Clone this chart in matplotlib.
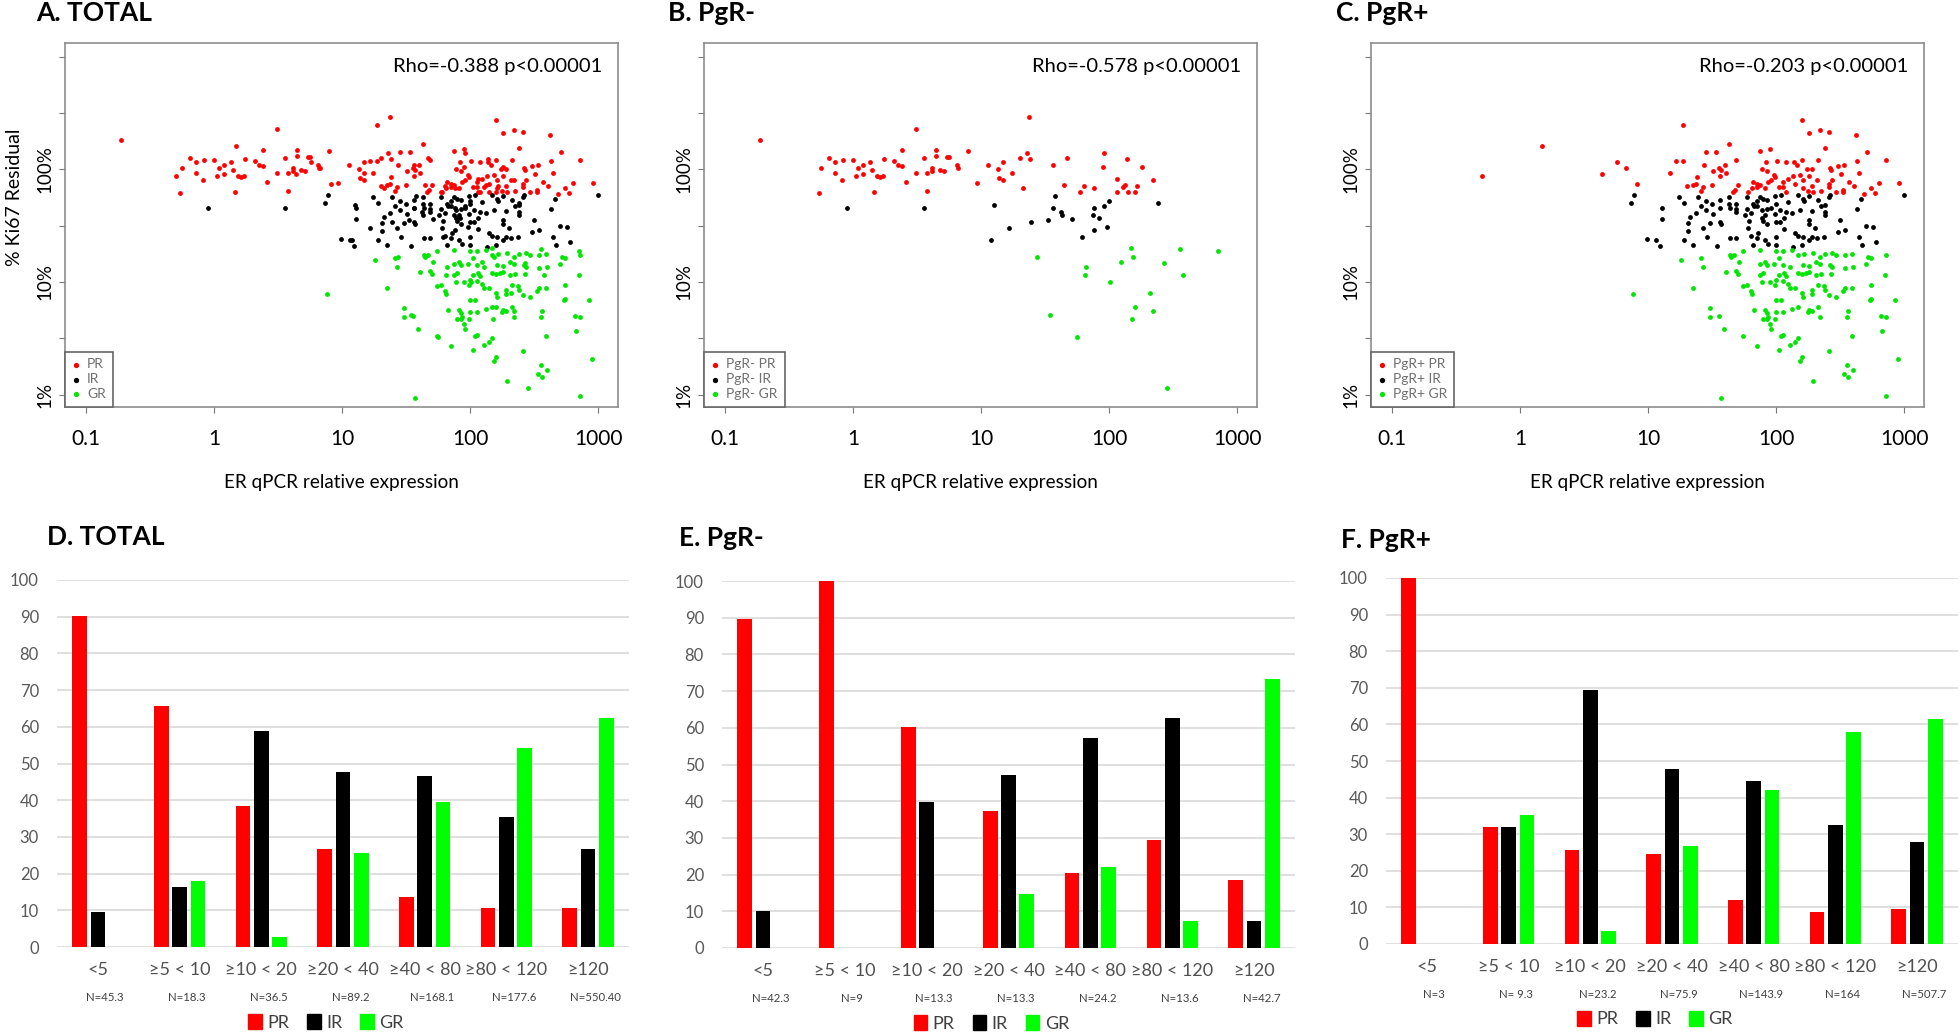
import numpy as np
import matplotlib
matplotlib.use("Agg")
import matplotlib.pyplot as plt
from matplotlib.ticker import NullLocator
from matplotlib.patches import Patch

plt.rcParams['font.family'] = ['Lato', 'DejaVu Sans']

# =====================================================
# SCATTER DATA  (log10 ER qPCR expression, log10 % Ki67 residual)
# =====================================================

pgr_neg_pr = [
    (-0.73, 2.26), (0.49, 2.36), (-0.19, 2.10), (-0.14, 2.06), (-0.08, 2.08), (0.00, 2.08),
    (-0.25, 2.01), (-0.14, 1.97), (-0.09, 1.90), (-0.27, 1.79), (0.02, 1.94), (0.04, 2.01),
    (0.08, 2.04), (0.08, 1.96), (0.13, 2.06), (0.15, 1.99), (0.19, 1.94), (0.21, 1.93),
    (0.23, 1.94), (0.24, 2.09), (0.32, 2.07), (0.35, 2.04), (0.38, 2.03), (0.38, 2.17),
    (0.41, 1.89), (0.16, 1.80), (0.49, 1.97), (0.55, 2.10), (0.58, 1.97), (0.58, 1.81),
    (0.62, 2.01), (0.62, 1.98), (0.65, 2.17), (0.65, 2.12), (0.68, 1.99), (0.71, 1.98),
    (0.73, 2.11), (0.75, 2.11), (0.81, 2.04), (0.82, 2.01), (0.90, 2.16), (0.97, 1.88),
    (1.37, 2.46), (1.05, 2.04), (1.17, 2.06), (1.13, 2.00), (1.14, 1.92), (1.17, 1.90),
    (1.24, 1.97), (1.30, 2.10), (1.36, 2.14), (1.38, 2.09), (1.33, 1.83), (1.56, 2.04),
    (1.67, 2.10), (1.65, 1.86), (1.77, 1.80), (1.80, 1.85), (1.88, 1.83), (1.96, 2.14),
    (1.95, 2.02), (2.14, 2.09), (2.26, 2.02), (2.06, 1.91), (2.06, 1.80), (2.11, 1.84),
    (2.12, 1.86), (2.15, 1.80), (2.20, 1.80), (2.22, 1.85), (2.34, 1.90),
]

pgr_neg_ir = [
    (-0.05, 1.66), (0.55, 1.66), (1.10, 1.68), (1.08, 1.37), (1.22, 1.48), (1.39, 1.53),
    (1.58, 1.76), (1.56, 1.66), (1.62, 1.62), (1.63, 1.59), (1.52, 1.55), (1.71, 1.56),
    (1.79, 1.40), (1.87, 1.59), (1.88, 1.66), (1.92, 1.57), (1.96, 1.67), (2.00, 1.72),
    (1.88, 1.46), (1.98, 1.49), (2.38, 1.70),
]

pgr_neg_gr = [
    (1.44, 1.22), (1.54, 0.71), (1.75, 0.51), (1.81, 1.06), (1.82, 1.13), (2.01, 1.00),
    (2.09, 1.18), (2.17, 1.30), (2.19, 1.22), (2.20, 0.78), (2.18, 0.67), (2.32, 0.90),
    (2.34, 0.74), (2.43, 1.17), (2.55, 1.29), (2.58, 1.06), (2.85, 1.27), (2.45, 0.06),
]

pgr_pos_pr = [
    (-0.30, 1.94), (0.17, 2.21), (0.64, 1.96), (0.76, 2.06), (0.83, 2.01),
    (1.27, 2.39), (1.63, 2.22), (1.45, 2.15), (1.53, 2.15), (1.87, 2.16), (1.95, 2.18),
    (1.22, 2.07), (1.27, 2.07), (1.69, 2.08), (1.44, 2.04), (1.60, 2.04), (1.92, 2.06),
    (1.17, 1.97), (1.51, 1.98), (1.55, 2.01), (1.57, 1.99), (1.61, 1.97), (1.56, 1.94),
    (1.89, 2.00), (1.93, 1.98), (1.98, 1.95), (2.01, 2.07), (0.91, 1.87), (1.38, 1.93),
    (1.37, 1.87), (1.35, 1.86), (1.50, 1.86), (1.30, 1.85), (1.70, 1.86), (1.43, 1.84),
    (1.41, 1.81), (1.68, 1.82), (1.66, 1.80), (1.82, 1.89), (1.85, 1.87), (1.87, 1.86),
    (1.91, 1.83), (1.94, 1.89), (1.96, 1.90), (1.99, 1.93), (2.02, 1.84), (1.78, 1.80),
    (1.81, 1.83), (1.85, 1.84),
    (2.20, 2.44), (2.26, 2.32), (2.34, 2.35), (2.41, 2.33), (2.62, 2.30), (2.38, 2.19),
    (2.71, 2.15), (2.86, 2.08), (2.08, 2.06), (2.14, 2.06), (2.16, 2.04), (2.20, 2.08),
    (2.33, 2.08), (2.63, 2.07), (2.48, 2.03), (2.53, 2.04), (2.42, 2.01), (2.43, 1.99),
    (2.24, 2.00), (2.28, 2.00), (2.65, 1.97), (2.51, 1.96), (2.13, 1.94), (2.19, 1.95),
    (2.26, 1.94), (2.21, 1.90), (2.09, 1.91), (2.05, 1.89), (2.05, 1.84), (2.32, 1.90),
    (2.44, 1.90), (2.41, 1.87), (2.57, 1.89), (2.61, 1.85), (2.80, 1.88), (2.96, 1.88),
    (2.15, 1.87), (2.21, 1.83), (2.28, 1.85), (2.25, 1.81), (2.29, 1.80), (2.35, 1.81),
    (2.41, 1.84), (2.47, 1.80), (2.52, 1.82), (2.52, 1.80), (2.69, 1.78), (2.74, 1.83),
    (2.77, 1.79), (2.08, 1.80),
]

pgr_pos_ir = [
    (0.89, 1.77), (0.87, 1.70), (1.24, 1.75), (1.28, 1.70), (1.11, 1.66), (1.11, 1.56),
    (1.39, 1.75), (1.45, 1.72), (1.50, 1.69), (1.56, 1.73), (1.63, 1.75), (1.63, 1.69),
    (1.69, 1.69), (1.77, 1.75), (1.87, 1.75), (1.90, 1.74), (1.85, 1.72), (1.82, 1.69),
    (1.93, 1.73), (1.99, 1.76), (2.00, 1.69), (1.41, 1.67), (1.45, 1.64), (1.56, 1.66),
    (1.64, 1.66), (1.69, 1.65), (1.77, 1.65), (1.83, 1.67), (1.85, 1.67), (1.89, 1.64),
    (1.93, 1.65), (1.96, 1.66), (1.37, 1.61), (1.33, 1.58), (1.51, 1.60), (1.69, 1.62),
    (1.76, 1.59), (1.80, 1.61), (1.91, 1.59), (1.99, 1.60), (1.31, 1.52), (1.43, 1.48),
    (1.48, 1.52), (1.56, 1.53), (1.57, 1.51), (1.31, 1.45), (1.79, 1.54), (1.78, 1.48),
    (1.89, 1.57), (1.90, 1.54), (1.93, 1.51), (2.00, 1.53), (0.99, 1.38), (1.06, 1.37),
    (1.09, 1.32), (1.28, 1.37), (1.46, 1.40), (1.35, 1.33), (1.54, 1.32), (1.64, 1.39),
    (1.69, 1.39), (1.80, 1.41), (1.86, 1.43), (1.85, 1.39), (1.82, 1.33), (1.91, 1.37),
    (1.94, 1.34), (2.00, 1.40), (2.00, 1.33),
    (3.00, 1.77), (2.04, 1.77), (2.17, 1.77), (2.21, 1.74), (2.22, 1.72), (2.26, 1.76),
    (2.33, 1.73), (2.42, 1.77), (2.41, 1.75), (2.66, 1.74), (2.09, 1.71), (2.38, 1.68),
    (2.35, 1.67), (2.63, 1.65), (2.03, 1.64), (2.08, 1.62), (2.12, 1.61), (2.19, 1.64),
    (2.28, 1.63), (2.38, 1.62), (2.38, 1.59), (2.50, 1.55), (2.06, 1.57), (2.03, 1.53),
    (2.26, 1.55), (2.26, 1.51), (2.06, 1.47), (2.30, 1.48), (2.48, 1.44), (2.54, 1.46),
    (2.70, 1.50), (2.76, 1.49), (2.15, 1.43), (2.17, 1.41), (2.21, 1.40), (2.20, 1.33),
    (2.28, 1.40), (2.32, 1.39), (2.37, 1.40), (2.26, 1.37), (2.65, 1.40), (2.78, 1.35),
    (2.67, 1.33), (2.13, 1.31),
]

pgr_pos_gr = [
    (1.26, 1.19), (1.41, 1.21), (1.43, 1.13), (1.64, 1.24), (1.65, 1.22), (1.67, 1.24),
    (1.74, 1.27), (1.87, 1.28), (2.00, 1.27), (1.71, 1.18), (1.61, 1.09), (1.69, 1.10),
    (1.70, 1.07), (1.87, 1.16), (1.91, 1.18), (1.93, 1.15), (1.98, 1.16), (2.02, 1.21),
    (1.87, 1.06), (1.90, 1.08), (1.89, 1.00), (1.95, 1.00), (2.00, 1.02), (1.99, 0.97),
    (2.02, 1.06), (0.88, 0.89), (1.35, 0.95), (1.74, 0.96), (1.77, 0.97), (1.80, 0.92),
    (1.81, 0.89), (2.00, 0.84), (1.48, 0.77), (1.48, 0.69), (1.55, 0.70), (1.83, 0.75),
    (1.91, 0.75), (1.93, 0.72), (1.94, 0.69), (1.90, 0.67), (1.93, 0.67), (1.95, 0.63),
    (1.96, 0.58), (1.99, 0.67), (2.00, 0.73), (1.59, 0.58), (1.74, 0.52), (1.85, 0.43),
    (2.02, 0.40), (1.57, -0.03),
    (2.05, 1.27), (2.12, 1.28), (2.17, 1.24), (2.22, 1.25), (2.29, 1.26), (2.34, 1.22),
    (2.38, 1.25), (2.44, 1.26), (2.47, 1.24), (2.54, 1.24), (2.59, 1.25), (2.72, 1.22),
    (2.74, 1.21), (2.86, 1.24), (2.70, 1.16), (2.05, 1.15), (2.11, 1.13), (2.21, 1.15),
    (2.26, 1.14), (2.31, 1.18), (2.34, 1.16), (2.42, 1.15), (2.44, 1.13), (2.54, 1.12),
    (2.60, 1.13), (2.06, 1.08), (2.08, 1.05), (2.17, 1.08), (2.20, 1.07), (2.23, 1.08),
    (2.26, 1.09), (2.31, 1.06), (2.35, 1.07), (2.43, 1.07), (2.85, 1.06), (2.05, 1.01),
    (2.09, 0.98), (2.11, 0.95), (2.15, 0.95), (2.20, 0.90), (2.21, 0.87), (2.28, 0.93),
    (2.28, 0.89), (2.33, 0.97), (2.37, 0.96), (2.38, 0.93), (2.41, 0.88), (2.47, 0.87),
    (2.52, 0.92), (2.54, 0.95), (2.59, 0.95), (2.74, 0.97), (2.73, 0.84), (2.74, 0.85),
    (2.93, 0.84), (2.04, 0.84), (2.05, 0.73), (2.12, 0.76), (2.17, 0.78), (2.25, 0.73),
    (2.26, 0.75), (2.28, 0.74), (2.33, 0.78), (2.34, 0.69), (2.56, 0.74), (2.55, 0.69),
    (2.82, 0.70), (2.86, 0.69), (2.05, 0.53), (2.04, 0.52), (2.83, 0.56), (2.59, 0.52),
    (2.17, 0.50), (2.15, 0.47), (2.11, 0.44), (2.41, 0.39), (2.20, 0.33), (2.19, 0.30),
    (2.95, 0.32), (2.55, 0.26), (2.60, 0.22), (2.53, 0.18), (2.56, 0.16), (2.29, 0.12),
    (2.86, -0.01),
]

rho_text = {
    "A": "Rho=-0.388 p<0.00001",
    "B": "Rho=-0.578 p<0.00001",
    "C": "Rho=-0.203 p<0.00001",
}

# =====================================================
# BAR DATA (% of patients)
# =====================================================

bins = ["<5", "≥5 < 10", "≥10 < 20", "≥20 < 40", "≥40 < 80", "≥80 < 120", "≥120"]

total_pr = [90.3, 65.6, 38.4, 26.8, 13.6, 10.6, 10.6]
total_ir = [9.5, 16.4, 58.9, 47.7, 46.7, 35.3, 26.8]
total_gr = [0, 18.0, 2.7, 25.5, 39.5, 54.1, 62.5]
total_n = ["N=45.3", "N=18.3", "N=36.5", "N=89.2", "N=168.1", "N=177.6", "N=550.40"]

neg_pr = [89.7, 100, 60.2, 37.2, 20.4, 29.3, 18.4]
neg_ir = [10.0, 0, 39.9, 47.2, 57.2, 62.8, 7.3]
neg_gr = [0, 0, 0, 14.7, 22.1, 7.3, 73.2]
neg_n = ["N=42.3", "N=9", "N=13.3", "N=13.3", "N=24.2", "N=13.6", "N=42.7"]

pos_pr = [100, 32.0, 25.8, 24.7, 12.1, 8.7, 9.6]
pos_ir = [0, 32.0, 69.5, 47.8, 44.6, 32.6, 27.8]
pos_gr = [0, 35.2, 3.6, 26.9, 42.0, 57.8, 61.6]
pos_n = ["N=3", "N= 9.3", "N=23.2", "N=75.9", "N=143.9", "N=164", "N=507.7"]

RED = "#ff0000"
BLACK = "#000000"
GREEN = "#00e600"
BAR_GREEN = "#00ff00"

# =====================================================
# FIGURE
# =====================================================

W, H = 1960, 1034
fig = plt.figure(figsize=(W / 100, H / 100), dpi=100)


def box(x0, x1, ytop, ybot):
    return [x0 / W, 1 - ybot / H, (x1 - x0) / W, (ybot - ytop) / H]


def scatter_panel(rect, title, title_x, groups, labels, rho, ylabel=False):
    ax = fig.add_axes(rect)
    for pts, col, lab in zip(groups, [RED, BLACK, GREEN], labels):
        arr = np.array(pts)
        ax.scatter(10 ** arr[:, 0], 10 ** arr[:, 1], s=12, color=col,
                   linewidths=0, label=lab, zorder=3)
    ax.set_xscale("log")
    ax.set_yscale("log")
    ax.set_xlim(10 ** -1.165, 10 ** 3.155)
    ax.set_ylim(10 ** -0.11, 10 ** 3.12)
    ax.set_xticks([0.1, 1, 10, 100, 1000])
    ax.set_xticklabels(["0.1", "1", "10", "100", "1000"])
    ax.set_yticks([1, 10 ** 0.5, 10, 10 ** 1.5, 100, 10 ** 2.5, 1000])
    ax.set_yticklabels(["1%", "", "10%", "", "100%", "", ""])
    ax.xaxis.set_minor_locator(NullLocator())
    ax.yaxis.set_minor_locator(NullLocator())
    ax.tick_params(axis="x", labelsize=15, length=4, color="#777777", pad=12)
    ax.tick_params(axis="y", labelsize=13.5, length=4, color="#777777",
                   labelrotation=90, pad=4)
    for lab in ax.get_yticklabels():
        lab.set_va("center")
    for sp in ax.spines.values():
        sp.set_color("#8c8c8c")
        sp.set_linewidth(1.2)
    ax.set_xlabel("ER qPCR relative expression", fontsize=13.6, labelpad=18)
    if ylabel:
        ax.set_ylabel("% Ki67 Residual", fontsize=14, va="center")
        ax.yaxis.set_label_coords(-0.092, 0.577)
    ax.text(0.972, 0.935, rho, transform=ax.transAxes, ha="right",
            va="center", fontsize=14.5)
    leg = ax.legend(loc="lower left", borderaxespad=0, fancybox=False,
                    edgecolor="#666666", framealpha=1, fontsize=10,
                    labelcolor="#707070", handlelength=0.6, handletextpad=0.5,
                    borderpad=0.5, labelspacing=0.2, scatterpoints=1,
                    markerscale=1.1)
    leg.get_frame().set_linewidth(1.2)
    fig.text(title_x / W, 1 - 13 / H, title, fontsize=19, fontweight="bold",
             ha="left", va="center")
    return ax


def bar_panel(rect, title, title_x, title_y, pr, ir, gr, nlabels):
    ax = fig.add_axes(rect)
    x = np.arange(len(bins))
    ax.bar(x - 0.224, pr, 0.18, color=RED, zorder=3)
    ax.bar(x, ir, 0.18, color=BLACK, zorder=3)
    ax.bar(x + 0.224, gr, 0.18, color=BAR_GREEN, zorder=3)
    ax.set_xlim(-0.5, 6.5)
    ax.set_ylim(0, 100)
    ax.set_yticks(range(0, 101, 10))
    ax.yaxis.grid(True, color="#d9d9d9", linewidth=1.2, zorder=0)
    ax.set_axisbelow(True)
    for sp in ax.spines.values():
        sp.set_visible(False)
    ax.set_xticks(x)
    ax.set_xticklabels(bins)
    ax.tick_params(axis="x", length=0, labelsize=13, labelcolor="#505050", pad=11)
    ax.tick_params(axis="y", length=0, labelsize=12, labelcolor="#595959", pad=13)
    for xi, n in zip(x, nlabels):
        ax.text(xi + 0.09, -0.138, n, transform=ax.get_xaxis_transform(),
                ha="center", va="center", fontsize=8.2, color="#404040")
    handles = [Patch(color=RED, label="PR"), Patch(color=BLACK, label="IR"),
               Patch(color=BAR_GREEN, label="GR")]
    ax.legend(handles=handles, loc="center", bbox_to_anchor=(0.47, -0.205),
              ncol=3, frameon=False, fontsize=13, handlelength=0.75,
              handleheight=0.9, handletextpad=0.3, columnspacing=1.0,
              labelcolor="#404040")
    fig.text(title_x / W, 1 - title_y / H, title, fontsize=19,
             fontweight="bold", ha="left", va="center")
    return ax


# =====================================================
# TOP ROW: SCATTER
# =====================================================

all_pr = pgr_neg_pr + pgr_pos_pr
all_ir = pgr_neg_ir + pgr_pos_ir
all_gr = pgr_neg_gr + pgr_pos_gr

scatter_panel(box(65, 618, 43, 407), "A. TOTAL", 36,
              [all_pr, all_ir, all_gr], ["PR", "IR", "GR"], rho_text["A"],
              ylabel=True)
scatter_panel(box(704, 1257, 43, 407), "B. PgR-", 668,
              [pgr_neg_pr, pgr_neg_ir, pgr_neg_gr],
              ["PgR- PR", "PgR- IR", "PgR- GR"], rho_text["B"])
scatter_panel(box(1371, 1924, 43, 407), "C. PgR+", 1336,
              [pgr_pos_pr, pgr_pos_ir, pgr_pos_gr],
              ["PgR+ PR", "PgR+ IR", "PgR+ GR"], rho_text["C"])

# =====================================================
# BOTTOM ROW: BARS
# =====================================================

bar_panel(box(57, 629, 580, 947), "D. TOTAL", 47, 537,
          total_pr, total_ir, total_gr, total_n)
bar_panel(box(722, 1295, 581, 948), "E. PgR-", 679, 538,
          neg_pr, neg_ir, neg_gr, neg_n)
bar_panel(box(1386, 1958, 578, 944), "F. PgR+", 1341, 540,
          pos_pr, pos_ir, pos_gr, pos_n)

fig.savefig("out.png", dpi=100, facecolor="white")
print("saved")
